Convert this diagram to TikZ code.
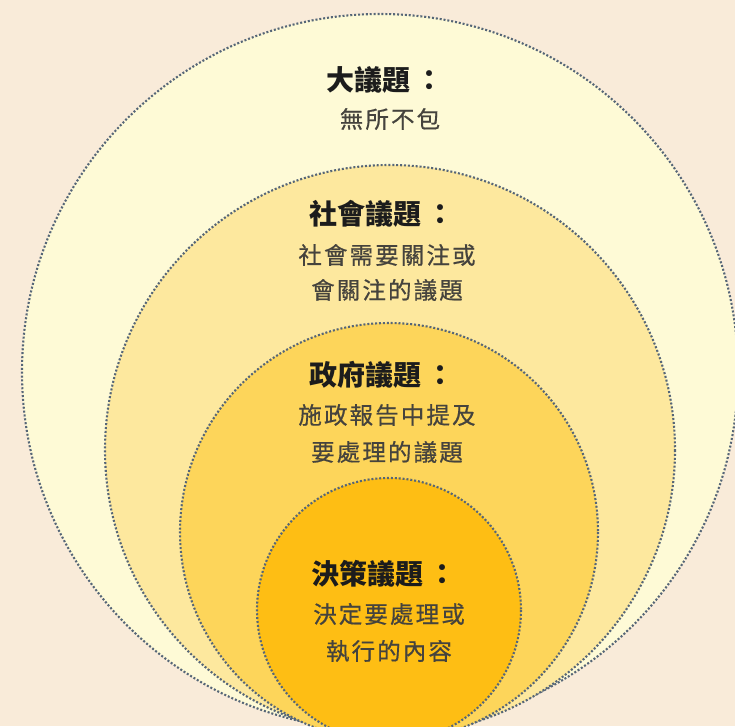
\documentclass[tikz,border=0pt]{standalone}
\usepackage{fontspec}
\newfontfamily\cjk{Noto Sans CJK TC}
\newfontfamily\cjksp{Noto Sans CJK TC}[LetterSpace=9, FakeBold=0.6]
\definecolor{bgc}{HTML}{F9EBD9}
\definecolor{cA}{HTML}{FEFAD6}
\definecolor{cB}{HTML}{FDE89E}
\definecolor{cC}{HTML}{FDD55A}
\definecolor{cD}{HTML}{FEBE14}
\definecolor{dotc}{HTML}{566677}
\definecolor{titlec}{HTML}{1C1C1C}
\definecolor{subc}{HTML}{45433D}
\begin{document}
\begin{tikzpicture}[x=1pt,y=-1pt,
  ring/.style={draw=dotc, line width=2.1pt, dash pattern=on 2pt off 1.9pt},
  title/.style={font=\cjk\bfseries\fontsize{28}{30}\selectfont, text=titlec, inner sep=0pt},
  sub/.style={font=\cjksp\fontsize{23.5}{26}\selectfont, text=subc, inner sep=0pt}]
\fill[bgc] (0,0) rectangle (735,726);
\useasboundingbox (0,0) rectangle (735,726);
\begin{scope}
\clip (0,0) rectangle (735,726);
\path[ring, fill=cA] (380,372) circle[radius=358];
\path[ring, fill=cB] (390,450) circle[radius=285];
\path[ring, fill=cC] (389,532) circle[radius=209];
\path[ring, fill=cD] (389,610) circle[radius=132];
\end{scope}
\node[title] (t1) at (385,80) {大議題\hspace{6pt}：};
\node[sub] (s1) at (390,119) {無所不包};
\node[title] (t2) at (382,214) {社會議題\hspace{6pt}：};
\node[sub] (s2a) at (387,255) {社會需要關注或};
\node[sub] (s2b) at (387,290) {會關注的議題};
\node[title] (t3) at (382,375) {政府議題\hspace{6pt}：};
\node[sub] (s3a) at (387,415) {施政報告中提及};
\node[sub] (s3b) at (387,452) {要處理的議題};
\node[title] (t4) at (384,574) {決策議題\hspace{6pt}：};
\node[sub] (s4a) at (389,614) {決定要處理或};
\node[sub] (s4b) at (389,651) {執行的內容};
\end{tikzpicture}
\end{document}
